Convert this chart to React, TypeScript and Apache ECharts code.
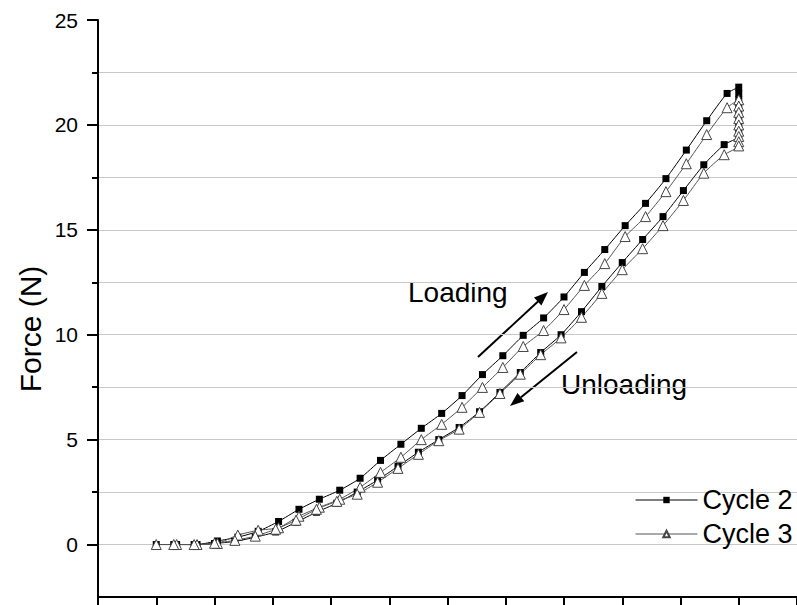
import React, { useEffect, useRef } from "react";
import * as echarts from "echarts";

// Displacement sample positions (axis units)
const loadX = [1.0, 1.35, 1.7, 2.05, 2.4, 2.75, 3.1, 3.45, 3.8, 4.15, 4.5, 4.85, 5.2, 5.55, 5.9, 6.25, 6.6, 6.95, 7.3, 7.65, 8.0, 8.35, 8.7, 9.05, 9.4, 9.75, 10.1, 10.45, 10.8, 11.0];
const towerX = [11.0, 11.0, 11.0, 11.0, 11.0, 11.0, 11.0, 11.0];
const unloadX = [10.75, 10.4, 10.05, 9.7, 9.35, 9.0, 8.65, 8.3, 7.95, 7.6, 7.25, 6.9, 6.55, 6.2, 5.85, 5.5, 5.15, 4.8, 4.45, 4.1, 3.75, 3.4, 3.05, 2.7, 2.35, 2.0, 1.65, 1.3];

// Cycle 2 forces (N)
const c2LoadY = [0, 0, 0, 0.17, 0.35, 0.63, 1.1, 1.68, 2.16, 2.59, 3.16, 4.01, 4.78, 5.54, 6.25, 7.1, 8.1, 9.0, 9.97, 10.8, 11.8, 12.97, 14.06, 15.2, 16.26, 17.44, 18.8, 20.2, 21.5, 21.8];
const c2TowerY = [21.5, 21.2, 20.9, 20.6, 20.3, 20.0, 19.7, 19.45];
const c2UnloadY = [19.06, 18.1, 16.87, 15.63, 14.54, 13.44, 12.3, 11.1, 10.0, 9.15, 8.2, 7.25, 6.33, 5.58, 5.0, 4.4, 3.73, 3.07, 2.5, 1.97, 1.54, 1.06, 0.6, 0.35, 0.15, 0.05, 0, 0];

// Cycle 3 forces (N)
const c3LoadY = [0, 0, 0, 0.05, 0.45, 0.68, 0.8, 1.35, 1.78, 2.16, 2.73, 3.44, 4.16, 5.0, 5.73, 6.54, 7.49, 8.44, 9.44, 10.2, 11.2, 12.35, 13.39, 14.68, 15.63, 16.82, 18.15, 19.54, 20.82, 21.2];
const c3TowerY = [20.9, 20.6, 20.3, 20.0, 19.7, 19.45, 19.2, 19.0];
const c3UnloadY = [18.58, 17.7, 16.4, 15.2, 14.1, 13.1, 11.97, 10.83, 9.85, 9.05, 8.12, 7.2, 6.3, 5.5, 4.95, 4.3, 3.63, 2.97, 2.4, 2.06, 1.68, 1.16, 0.73, 0.4, 0.2, 0.06, 0, 0];

const yMajorTicks = [0, 5, 10, 15, 20, 25];
const yMinorTicks = [2.5, 7.5, 12.5, 17.5, 22.5];
const yGridValues = [0, 2.5, 5, 7.5, 10, 12.5, 15, 17.5, 20, 22.5];
const seriesNames = ["Cycle 2", "Cycle 3"];

const FONT = "'Liberation Sans', Arial, Helvetica, sans-serif";

function pairs(xs: number[], ys: number[]) {
  return xs.map((x, i) => [x, ys[i]]);
}

export default function App() {
  const ref = useRef<HTMLDivElement>(null);
  useEffect(() => {
    document.body.style.margin = "0";
    if (!ref.current) return;
    const chart = echarts.init(ref.current, undefined, { renderer: "svg" });
    const c2 = [
      ...pairs(loadX, c2LoadY),
      ...pairs(towerX, c2TowerY),
      ...pairs(unloadX, c2UnloadY),
    ];
    const c3 = [
      ...pairs(loadX, c3LoadY),
      ...pairs(towerX, c3TowerY),
      ...pairs(unloadX, c3UnloadY),
    ];
    chart.setOption({
      animation: false,
      backgroundColor: "#ffffff",
      grid: { left: 98, right: -8, top: 20, bottom: 8 },
      xAxis: {
        type: "value",
        min: 0,
        max: 12,
        interval: 1,
        axisLine: { onZero: false, lineStyle: { color: "#000", width: 2 } },
        axisTick: { show: true, length: 10, lineStyle: { color: "#000", width: 2 } },
        axisLabel: { show: false },
        splitLine: { show: false },
      },
      yAxis: [
        {
          type: "value",
          min: -2.5,
          max: 25,
          interval: 2.5,
          position: "left",
          z: 3,
          axisLine: { show: true, onZero: false, lineStyle: { color: "#000", width: 2 } },
          axisTick: { show: true, customValues: yMajorTicks, length: 11, lineStyle: { color: "#000", width: 2 } },
          axisLabel: {
            customValues: yMajorTicks,
            fontSize: 21,
            color: "#000",
            margin: 20,
            fontFamily: FONT,
          },
          splitLine: { show: false },
        },
        {
          type: "value",
          min: -2.5,
          max: 25,
          interval: 2.5,
          position: "left",
          offset: 0,
          axisLine: { show: false },
          axisTick: { show: true, customValues: yMinorTicks, length: 6, lineStyle: { color: "#000", width: 2 } },
          axisLabel: { show: false },
          splitLine: { show: false },
        },
        {
          type: "value",
          min: -2.5,
          max: 25,
          interval: 2.5,
          position: "left",
          offset: 0,
          axisLine: { show: false },
          axisTick: { show: false, customValues: yGridValues },
          axisLabel: { show: false },
          splitLine: { show: true, lineStyle: { color: "#c8c8c8", width: 1 } },
        },
      ],
      legend: {
        data: seriesNames,
        orient: "vertical",
        left: 630,
        top: 480,
        itemWidth: 62,
        itemHeight: 8,
        itemGap: 4,
        lineStyle: { width: 1 },
        textStyle: { fontSize: 27, color: "#000", fontFamily: FONT, lineHeight: 30 },
      },
      series: [
        {
          name: seriesNames[0],
          type: "line",
          yAxisIndex: 0,
          data: c2,
          smooth: 0.2,
          symbol: "rect",
          symbolSize: 7,
          lineStyle: { color: "#000", width: 1 },
          itemStyle: { color: "#000" },
        },
        {
          name: seriesNames[1],
          type: "line",
          yAxisIndex: 0,
          data: c3,
          smooth: 0.2,
          symbol: "triangle",
          symbolSize: 10,
          lineStyle: { color: "#555", width: 1 },
          itemStyle: { color: "#fff", borderColor: "#444", borderWidth: 1 },
        },
      ],
      graphic: [
        {
          type: "text",
          x: 30,
          y: 329,
          rotation: Math.PI / 2,
          style: { text: "Force (N)", fontSize: 30, fontFamily: FONT, fill: "#000", align: "center", verticalAlign: "middle" },
        },
        {
          type: "text",
          x: 408,
          y: 292,
          style: { text: "Loading", fontSize: 28, fontFamily: FONT, fill: "#000", align: "left", verticalAlign: "middle" },
        },
        {
          type: "text",
          x: 561,
          y: 384,
          style: { text: "Unloading", fontSize: 28, fontFamily: FONT, fill: "#000", align: "left", verticalAlign: "middle" },
        },
        {
          type: "line",
          shape: { x1: 478, y1: 357, x2: 538, y2: 301.5 },
          style: { stroke: "#000", lineWidth: 2 },
        },
        {
          type: "polygon",
          shape: { points: [[548, 292], [541.4, 305.5], [534.0, 297.5]] },
          style: { fill: "#000" },
        },
        {
          type: "line",
          shape: { x1: 577, y1: 352, x2: 521, y2: 397.2 },
          style: { stroke: "#000", lineWidth: 2 },
        },
        {
          type: "polygon",
          shape: { points: [[510, 406], [524.3, 401.3], [517.5, 393.1]] },
          style: { fill: "#000" },
        },
      ],
    });
    return () => chart.dispose();
  }, []);
  return <div ref={ref} style={{ width: 797, height: 605 }} />;
}
